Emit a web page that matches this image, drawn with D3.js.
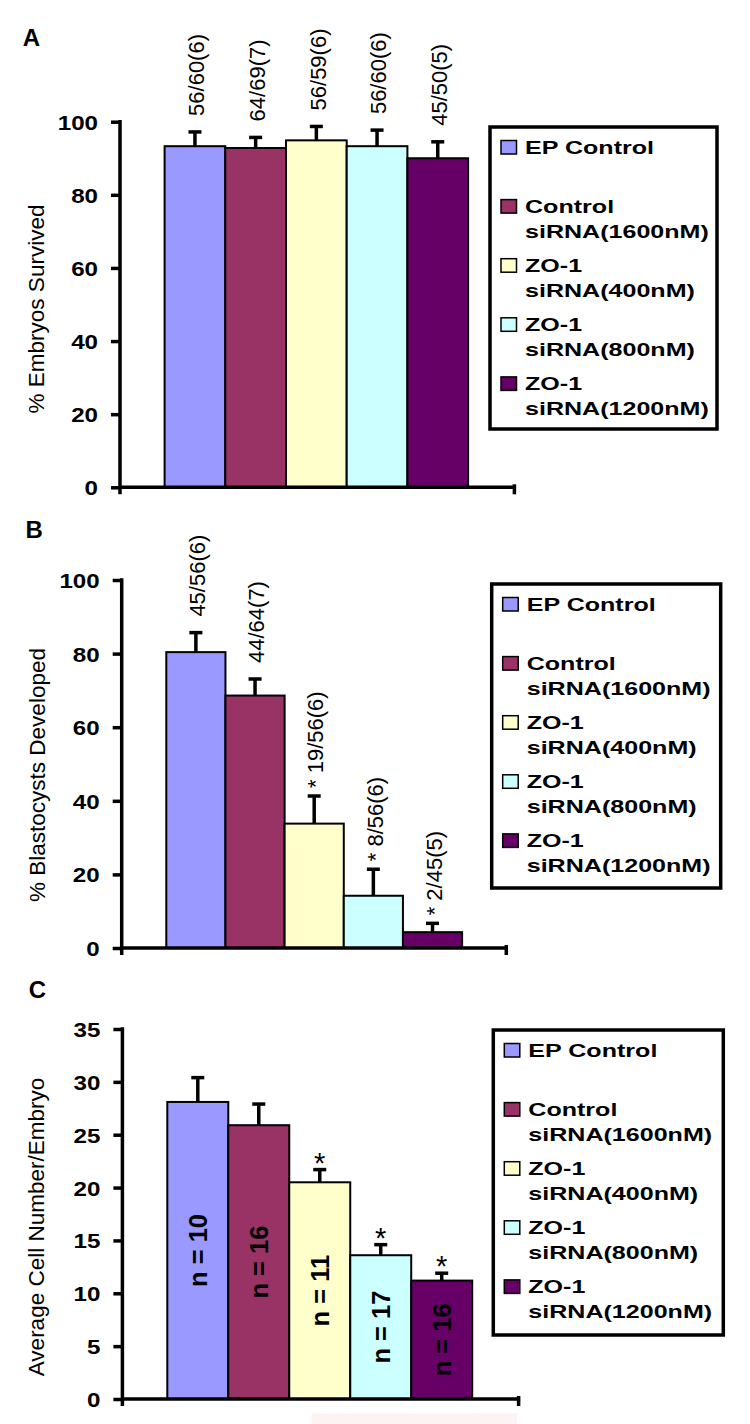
<!DOCTYPE html>
<html><head><meta charset="utf-8">
<script src="https://cdn.jsdelivr.net/npm/d3@7"></script>
<style>body{margin:0;background:#fff} svg{display:block}</style>
</head><body>
<svg id="chart" width="750" height="1424"></svg>
<script>
// ---------- data ----------
const categories = ["EP Control","Control siRNA(1600nM)","ZO-1 siRNA(400nM)","ZO-1 siRNA(800nM)","ZO-1 siRNA(1200nM)"];
const legendLines = [["EP Control"],["Control","siRNA(1600nM)"],["ZO-1","siRNA(400nM)"],["ZO-1","siRNA(800nM)"],["ZO-1","siRNA(1200nM)"]];
const colors = ["#9999FF","#993366","#FFFFCC","#CCFFFF","#660066"];

const survivedValues = [93.3, 92.8, 94.9, 93.3, 90.0];
const survivedErrors = [3.9, 2.9, 3.8, 4.4, 4.5];
const survivedLabels = ["56/60(6)","64/69(7)","56/59(6)","56/60(6)","45/50(5)"];
const survivedTicks = [0,20,40,60,80,100];

const blastValues = [80.4, 68.6, 33.8, 14.2, 4.3];
const blastErrors = [5.3, 4.5, 7.5, 7.2, 2.4];
const blastLabels = ["45/56(6)","44/64(7)","* 19/56(6)","* 8/56(6)","* 2/45(5)"];
const blastTicks = [0,20,40,60,80,100];

const cellValues = [28.1, 25.9, 20.5, 13.6, 11.2];
const cellErrors = [2.3, 2.0, 1.2, 1.0, 0.7];
const cellNLabels = ["n = 10","n = 16","n = 11","n = 17","n = 16"];
const cellStars = ["","","*","*","*"];
const cellTicks = [0,5,10,15,20,25,30,35];

// ---------- layout ----------
const FONT = "'Liberation Sans', Arial, Helvetica, sans-serif";
const svg = d3.select("#chart");

const panels = [
  { letter:"A", letterPos:[22.7,45.7], title:"% Embryos Survived", titlePos:[44,309],
    values:survivedValues, errors:survivedErrors, labels:survivedLabels, ticks:survivedTicks, max:100,
    x0:120, x1:514.4, yTop:121.7, yBot:487.3, barL:164.6, barR:468.1,
    legend:[490,127,227,302] },
  { letter:"B", letterPos:[25.4,538], title:"% Blastocysts Developed", titlePos:[45,775],
    values:blastValues, errors:blastErrors, labels:blastLabels, ticks:blastTicks, max:100,
    x0:121.7, x1:506.3, yTop:580, yBot:948, barL:166.3, barR:462.1,
    legend:[491.7,584,229,304] },
  { letter:"C", letterPos:[28.7,998], title:"Average Cell Number/Embryo", titlePos:[44,1227],
    values:cellValues, errors:cellErrors, nlabels:cellNLabels, stars:cellStars, ticks:cellTicks, max:35,
    x0:122.4, x1:518.6, yTop:1029, yBot:1399, barL:167.3, barR:472.2,
    legend:[493.3,1030,230,305] }
];

// faint artifact at bottom of the reference
svg.append("rect").attr("x",311.7).attr("y",1413.3).attr("width",205).attr("height",11).attr("fill","#fdf3f3");

panels.forEach(p => {
  const g = svg.append("g");
  const y = d3.scaleLinear().domain([0, p.max]).range([p.yBot, p.yTop]);
  const x = d3.scaleBand().domain(categories).range([p.barL, p.barR]).padding(0);

  // panel letter
  g.append("text").attr("x",p.letterPos[0]).attr("y",p.letterPos[1])
    .attr("font-family",FONT).attr("font-weight","bold").attr("font-size",24).text(p.letter);

  // y title
  g.append("text").attr("transform",`translate(${p.titlePos[0]},${p.titlePos[1]}) rotate(-90)`)
    .attr("text-anchor","middle").attr("font-family",FONT).attr("font-size",22.5).text(p.title);

  // bars
  g.selectAll("rect.bar").data(categories).enter().append("rect")
    .attr("x", d => x(d)).attr("width", x.bandwidth())
    .attr("y", (d,i) => y(p.values[i])).attr("height", (d,i) => y(0) - y(p.values[i]))
    .attr("fill", (d,i) => colors[i]).attr("stroke","#000").attr("stroke-width",2);

  // error bars
  categories.forEach((c,i) => {
    const cx = x(c) + x.bandwidth()/2;
    const top = y(p.values[i] + p.errors[i]);
    g.append("line").attr("x1",cx).attr("x2",cx).attr("y1",y(p.values[i])).attr("y2",top)
      .attr("stroke","#000").attr("stroke-width",3.5);
    g.append("line").attr("x1",cx-6.5).attr("x2",cx+6.5).attr("y1",top).attr("y2",top)
      .attr("stroke","#000").attr("stroke-width",3.5);

    if (p.labels) {
      const lab = p.labels[i];
      const gap = lab.startsWith("*") ? 8 : 16;
      g.append("text").attr("transform",`translate(${cx},${top-gap}) rotate(-90)`)
        .attr("dy","0.42em").attr("text-anchor","start")
        .attr("font-family",FONT).attr("font-size",22).text(lab);
    }
    if (p.nlabels) {
      const mid = (y(p.values[i]) + y(0))/2;
      g.append("text").attr("transform",`translate(${cx},${mid}) rotate(-90)`)
        .attr("dy","0.36em").attr("text-anchor","middle")
        .attr("font-family",FONT).attr("font-weight","bold").attr("font-size",25.5).text(p.nlabels[i]);
      if (p.stars[i]) {
        g.append("text").attr("x",cx).attr("y",top+3).attr("text-anchor","middle")
          .attr("font-family",FONT).attr("font-size",29).text(p.stars[i]);
      }
    }
  });

  // y axis
  const ax = g.append("g").attr("transform",`translate(${p.x0},0)`)
    .call(d3.axisLeft(y).tickValues(p.ticks).tickSize(9).tickSizeOuter(0));
  ax.select(".domain").remove();
  ax.selectAll(".tick line").attr("stroke","#000").attr("stroke-width",3.5);
  ax.selectAll(".tick text").attr("x",null).attr("dy",null)
    .attr("transform","translate(-22,7.5) scale(1.15,1)")
    .attr("text-anchor","end").attr("fill","#000")
    .attr("font-family",FONT).attr("font-weight","bold").attr("font-size",21);
  g.append("line").attr("x1",p.x0).attr("x2",p.x0).attr("y1",y(p.max)-1.75).attr("y2",y(0)+7)
    .attr("stroke","#000").attr("stroke-width",3.5);

  // x axis
  g.append("line").attr("x1",p.x0).attr("x2",p.x1+1.5).attr("y1",y(0)).attr("y2",y(0))
    .attr("stroke","#000").attr("stroke-width",3.5);
  g.append("line").attr("x1",p.x1).attr("x2",p.x1).attr("y1",y(0)-3).attr("y2",y(0)+7)
    .attr("stroke","#000").attr("stroke-width",3.5);

  // legend
  const [bx,by,bw,bh] = p.legend;
  const lg = g.append("g").attr("transform",`translate(${bx},${by})`);
  lg.append("rect").attr("x",0).attr("y",0).attr("width",bw).attr("height",bh)
    .attr("fill","#fff").attr("stroke","#000").attr("stroke-width",3.5);
  legendLines.forEach((lines,i) => {
    const base = 27 + i*59.1;
    lg.append("rect").attr("x",11).attr("y",base-13.5).attr("width",15.5).attr("height",13.5)
      .attr("fill",colors[i]).attr("stroke","#000").attr("stroke-width",1.5);
    lines.forEach((t,j) => {
      lg.append("text").attr("transform",`translate(35,${base + j*25}) scale(1.32,1)`)
        .attr("font-family",FONT).attr("font-weight","bold").attr("font-size",19).text(t);
    });
  });
});
</script>
</body></html>
